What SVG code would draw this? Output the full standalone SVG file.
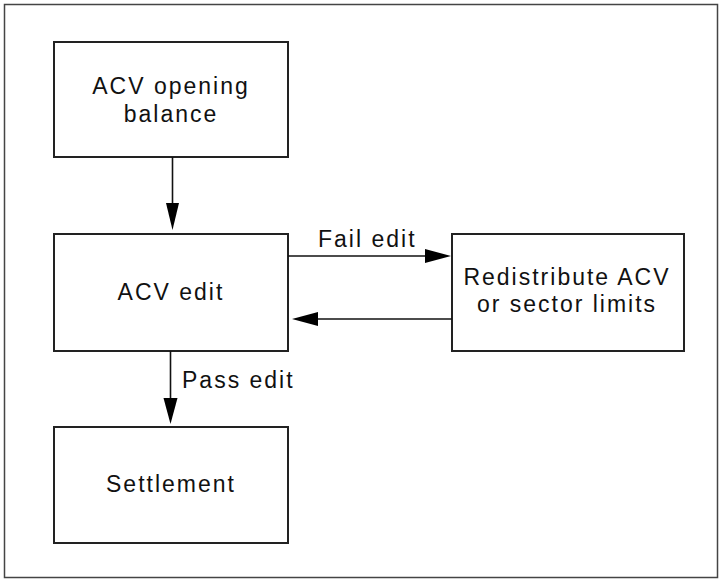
<svg xmlns="http://www.w3.org/2000/svg" width="723" height="579" viewBox="0 0 723 579">
<style>
.box{fill:#fff;stroke:#222;stroke-width:2}
.t{font-family:"Liberation Sans",Arial,sans-serif;font-size:23px;letter-spacing:2px;fill:#111;text-anchor:middle}
.tl{font-family:"Liberation Sans",Arial,sans-serif;font-size:23px;letter-spacing:2px;fill:#111}
.ln{stroke:#111;stroke-width:1.6;fill:none}
.ah{fill:#000}
</style>
<rect x="0" y="0" width="723" height="579" fill="#fff"/>
<rect x="4.5" y="4.5" width="713" height="573" fill="none" stroke="#444" stroke-width="1.5"/>
<g id="node-opening">
<rect class="box" x="54" y="42" width="234" height="115"/>
<text class="t" x="171" y="94">ACV opening</text>
<text class="t" x="171" y="122">balance</text>
</g>
<g id="node-edit">
<rect class="box" x="54" y="234" width="234" height="117"/>
<text class="t" x="171" y="300">ACV edit</text>
</g>
<g id="node-redistribute">
<rect class="box" x="452" y="234" width="232" height="117"/>
<text class="t" x="567" y="285">Redistribute ACV</text>
<text class="t" x="567" y="312">or sector limits</text>
</g>
<g id="node-settlement">
<rect class="box" x="54" y="427" width="234" height="116"/>
<text class="t" x="171" y="492">Settlement</text>
</g>
<g id="connectors">
<line class="ln" x1="172.5" y1="157" x2="172.5" y2="205"/>
<polygon class="ah" points="166,203 179,203 172.5,230"/>
<line class="ln" x1="288" y1="256" x2="428" y2="256"/>
<polygon class="ah" points="425,249 425,263 451,256"/>
<text class="tl" x="318" y="247">Fail edit</text>
<line class="ln" x1="452" y1="319" x2="316" y2="319"/>
<polygon class="ah" points="318,312 318,326 292,319"/>
<line class="ln" x1="170.5" y1="351" x2="170.5" y2="400"/>
<polygon class="ah" points="163.5,398 177.5,398 170.5,424"/>
<text class="tl" x="182" y="388">Pass edit</text>
</g>
</svg>
